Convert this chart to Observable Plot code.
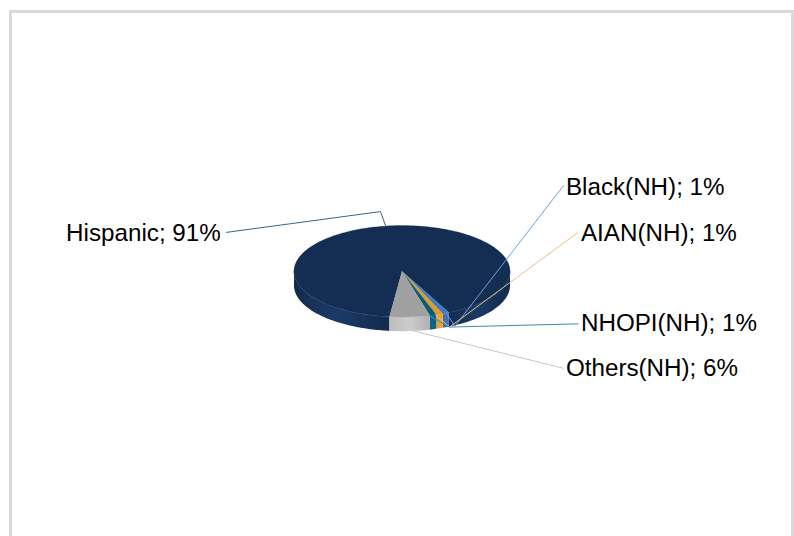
<!DOCTYPE html>
<html><head><meta charset="utf-8">
<script src="https://cdn.jsdelivr.net/npm/d3@7"></script>
<script src="https://cdn.jsdelivr.net/npm/@observablehq/plot@0.6"></script>
<style>
html,body{margin:0;padding:0;background:#fff;overflow:hidden}
#frame{position:absolute;left:9px;top:10px;width:779px;height:526px;border:solid #d9d9d9;border-width:3px 3px 0 3px;}
#chart{position:absolute;left:0;top:0}
svg{background:transparent!important}
</style></head><body>
<div id="frame"></div><div id="chart"></div>
<script>
const names = ["Hispanic","Black(NH)","AIAN(NH)","NHOPI(NH)","Others(NH)"];
const values = [91,1,1,1,6];
const topColors = ["#142e53","#3e78c6","#de9c28","#0a5a78","#a0a0a0"];
const sideFills = ["url(#sideHisp)","#3a70b8","#eaa22c","#0b6488","url(#sideOthers)"];
const leaderColors = ["#3f5f8c","#6f9fdc","#e8bf80","#3d8ba6","#c8c8c8"];
const startAngle = 186.7 * Math.PI / 180;   // pie rotation, clockwise from north
const depth = 0.31;                         // extrusion, in pie y units
const leaders = [
  [[-1.625,0.85],[-0.199,1.304],[-0.153,1.0]],
  [[1.495,1.87],[0.49,-1.2],[0.41,-0.92]],
  [[1.63,0.85],[0.44,-1.22],[0.31,-0.95]],
  [[1.63,-1.15],[0.44,-1.22],[0.25,-0.97]],
  [[1.495,-2.12],[0.115,-1.31],[0.05,-1.1]]
];
const labelAt = [[-3.11,0.835],[1.518,1.835],[1.657,0.835],[1.657,-1.14],[1.518,-2.125]];

const arcs = d3.pie().sort(null).startAngle(startAngle).endAngle(startAngle + 2*Math.PI)(values);
const slices = arcs.map((a,i)=>({name:names[i],a0:a.startAngle,a1:a.endAngle,i}));

const topPts = slices.flatMap(s=>{
  const n = Math.max(2,Math.ceil((s.a1-s.a0)/0.02));
  const pts=[{name:s.name,x:0,y:0}];
  for(let k=0;k<=n;k++){const t=s.a0+(s.a1-s.a0)*k/n;pts.push({name:s.name,x:Math.sin(t),y:Math.cos(t)});}
  return pts;
});
// Front wall: only the part of each slice between east and west (through south)
const sidePts = slices.flatMap(s=>{
  const res=[];
  [[Math.PI/2,3*Math.PI/2],[5*Math.PI/2,7*Math.PI/2]].forEach(([lo,hi],j)=>{
    const a=Math.max(s.a0,lo),b=Math.min(s.a1,hi);
    if(b<=a) return;
    const id=s.name+j, n=Math.max(2,Math.ceil((b-a)/0.02)),up=[],dn=[];
    for(let k=0;k<=n;k++){const t=a+(b-a)*k/n;
      up.push({id,i:s.i,x:Math.sin(t),y:Math.cos(t)});
      dn.push({id,i:s.i,x:Math.sin(t),y:Math.cos(t)-depth});}
    res.push(...up,...dn.reverse());
  });
  return res;
});
const rim = d3.range(0,61).map(k=>{const t=Math.PI/2+Math.PI*k/60;return {x:Math.sin(t),y:Math.cos(t)};})
  .filter(d=>{const a=Math.atan2(d.x,d.y);const deg=(a*180/Math.PI+360)%360;return deg<154||deg>187;});
const rimA = rim.filter(d=>d.x>0), rimB = rim.filter(d=>d.x<0);
const leaderPts = leaders.flatMap((l,i)=>l.map(p=>({i,x:p[0],y:p[1]})));
const labels = names.map((n,i)=>({text:`${n}; ${values[i]}%`,x:labelAt[i][0],y:labelAt[i][1]}));

const defs = () => {
  const s = d3.create("svg:defs");
  const g = (id,stops)=>{const lg=s.append("linearGradient").attr("id",id).attr("gradientUnits","objectBoundingBox");
    stops.forEach(([o,c])=>lg.append("stop").attr("offset",o).attr("stop-color",c));};
  g("sideHisp",[[0,"#13294a"],[0.3,"#1a3660"],[0.44,"#1b3a68"],[0.6,"#1a3660"],[1,"#132a4c"]]);
  g("sideOthers",[[0,"#bcbcbc"],[0.5,"#cdcdcd"],[1,"#b0b0b0"]]);
  return s.node();
};

const chart = Plot.plot({
  width:794,height:536,margin:0,
  x:{domain:[-1,1],range:[293.5,509.5],axis:null},
  y:{domain:[-1,1],range:[316.5,225],axis:null},
  marks:[
    defs,
    ...sideFills.map((f,i)=>Plot.line(sidePts.filter(d=>d.i===i),{x:"x",y:"y",z:"id",fill:f,stroke:null,curve:"linear"})),
    Plot.line(rimA,{x:"x",y:"y",stroke:"#3d5a85",strokeWidth:0.6}),
    Plot.line(rimB,{x:"x",y:"y",stroke:"#3d5a85",strokeWidth:0.6}),
    ...topColors.map((c,i)=>Plot.line(topPts.filter(d=>d.name===names[i]),{x:"x",y:"y",fill:c,stroke:c,strokeWidth:0.3})),
    ...leaderColors.map((c,i)=>Plot.line(leaderPts.filter(d=>d.i===i),{x:"x",y:"y",stroke:c,strokeWidth:1})),
    Plot.text(labels,{x:"x",y:"y",text:"text",textAnchor:"start",fontSize:24.2,fontFamily:"Liberation Sans",fill:"#000"})
  ]
});
document.getElementById("chart").append(chart);
</script></body></html>
